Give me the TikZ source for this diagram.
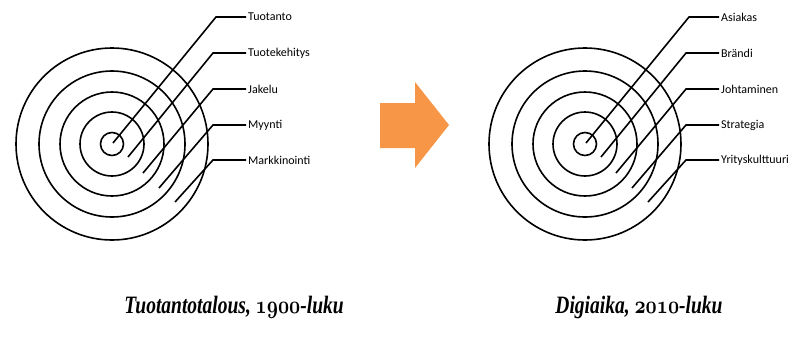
\documentclass[tikz,border=0pt]{standalone}
\usepackage{fontspec}
\setmainfont{Liberation Serif}
\newfontfamily\calibri{Carlito}
\usepackage{tikz}
\definecolor{nuoli}{HTML}{F79646}
\newcommand\osnum[1]{{\usefont{OML}{cmm}{b}{it}#1}}
\tikzset{
  rengas/.style={line width=1.6pt},
  viiva/.style={line width=1.6pt},
  nimi/.style={anchor=west,inner sep=2pt,font=\calibri\fontsize{12}{12}\selectfont},
  otsikko/.style={font=\bfseries\itshape\fontsize{25}{25}\selectfont,xscale=0.78}
}
\begin{document}
\begin{tikzpicture}[x=1pt,y=-1pt]
\useasboundingbox (0,0) rectangle (809,346);
%\draw[help lines] (0,0) grid[step=50] (809,346);
% vasen taulu
\coordinate (k1) at (112,144);
\draw[rengas] (k1) circle (11.5) (k1) circle (32) (k1) circle (52)
(k1) circle (73) (k1) circle (96);
\coordinate (a1) at (113,143);
\coordinate (a2) at (128,157);
\coordinate (a3) at (143,173);
\coordinate (a4) at (159,188);
\coordinate (a5) at (175,202);
\node[nimi] (tuotanto) at (246,17) {Tuotanto};
\node[nimi] (kehitys) at (246,53) {Tuotekehitys};
\node[nimi] (jakelu) at (246,89) {Jakelu};
\node[nimi] (myynti) at (246,125) {Myynti};
\node[nimi] (markkinointi) at (246,160) {Markkinointi};
\draw[viiva] (a1)--(216,17)--(tuotanto.west);
\draw[viiva] (a2)--(213,53)--(kehitys.west);
\draw[viiva] (a3)--(213,89)--(jakelu.west);
\draw[viiva] (a4)--(213,125)--(myynti.west);
\draw[viiva] (a5)--(213,160)--(markkinointi.west);
% nuoli
\fill[nuoli] (380,103)--(415,103)--(415,82)--(449,125)--(415,168)--(415,148)--(380,148)--cycle;
% oikea taulu
\begin{scope}[xshift=473]
\coordinate (k2) at (112,144);
\draw[rengas] (k2) circle (11.5) (k2) circle (32) (k2) circle (52)
(k2) circle (73) (k2) circle (96);
\coordinate (b1) at (113,143);
\coordinate (b2) at (128,157);
\coordinate (b3) at (143,173);
\coordinate (b4) at (159,188);
\coordinate (b5) at (175,202);
\node[nimi] (asiakas) at (246,17) {Asiakas};
\node[nimi] (brandi) at (246,53) {Brändi};
\node[nimi] (johtaminen) at (246,89) {Johtaminen};
\node[nimi] (strategia) at (246,125) {Strategia};
\node[nimi] (kulttuuri) at (246,160) {Yrityskulttuuri};
\draw[viiva] (b1)--(216,17)--(asiakas.west);
\draw[viiva] (b2)--(213,53)--(brandi.west);
\draw[viiva] (b3)--(213,89)--(johtaminen.west);
\draw[viiva] (b4)--(213,125)--(strategia.west);
\draw[viiva] (b5)--(213,160)--(kulttuuri.west);
\end{scope}
% otsikot
\node[otsikko] (vanha) at (234,307) {Tuotantotalous, \osnum{1900}-luku};
\node[otsikko] (uusi) at (639,307) {Digiaika, \osnum{2010}-luku};
\end{tikzpicture}
\end{document}
